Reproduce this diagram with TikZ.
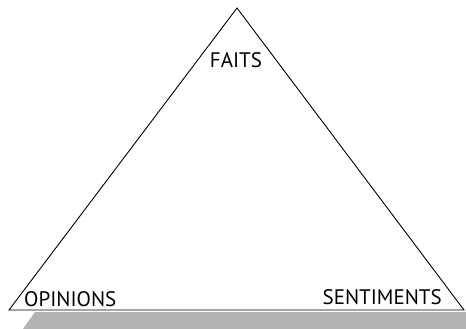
\documentclass[tikz,border=0pt]{standalone}
\usepackage{fontspec}
\setmainfont{PT Sans}
\begin{document}
\begin{tikzpicture}[x=1pt,y=-1pt,
  lbl/.style={inner sep=0pt,font=\fontsize{21}{21}\selectfont},
  edge/.style={draw=black,line width=0.9pt,line join=miter}]
\useasboundingbox (0,0) rectangle (466,329);
\fill[black!30] (35,312) -- (466,312) -- (466,329) -- (23,329) -- cycle;
\coordinate (top) at (237,8);
\coordinate (left) at (9,310);
\coordinate (right) at (464,310);
\draw[edge] (top) -- (left) -- (right) -- cycle;
\node[lbl,anchor=base west] (op) at (24,306) {OPINIONS};
\node[lbl,anchor=base east] (se) at (442,304.5) {SENTIMENTS};
\node[lbl,anchor=base] (fa) at (236,67) {FAITS};
\end{tikzpicture}
\end{document}
